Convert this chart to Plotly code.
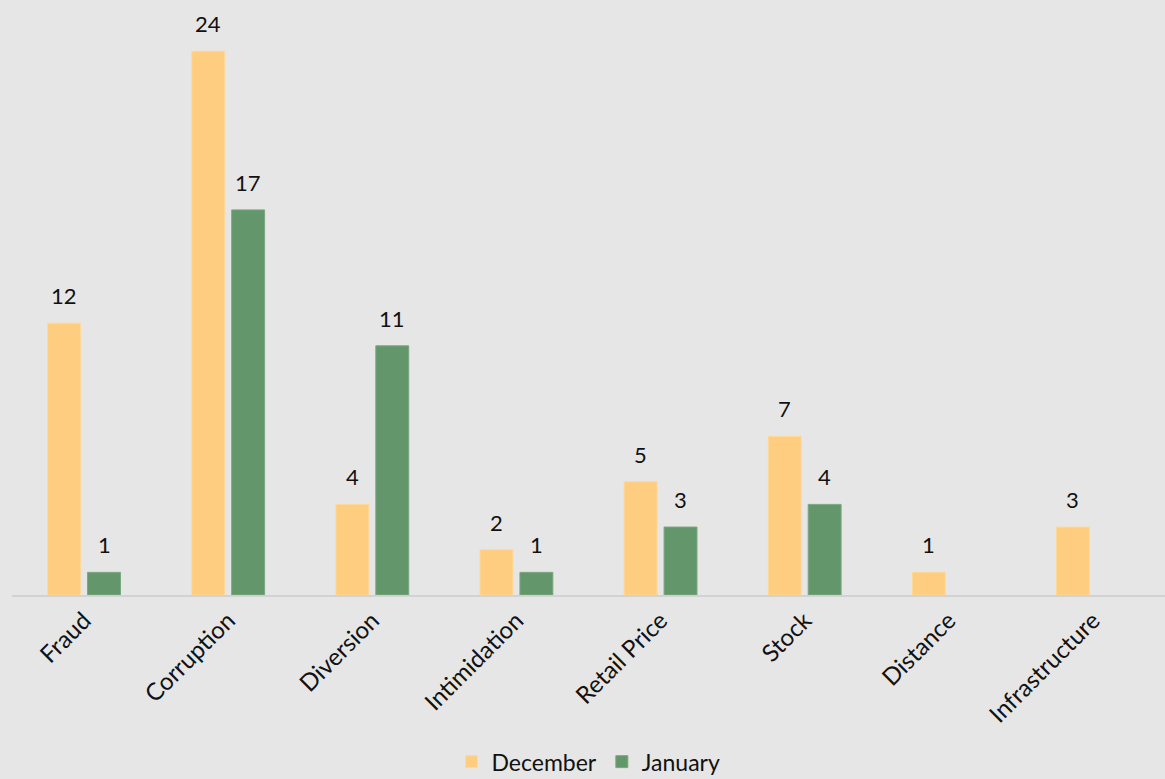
import plotly.graph_objects as go

categories = ["Fraud", "Corruption", "Diversion", "Intimidation", "Retail Price",
              "Stock", "Distance", "Infrastructure"]
december = [12, 24, 4, 2, 5, 7, 1, 3]
january = [1, 17, 11, 1, 3, 4, None, None]

FONT = "Lato, Calibri, 'Open Sans', sans-serif"
BG = "#E6E6E6"
INK = "#111111"

fig = go.Figure()
fig.add_trace(go.Bar(
    name="December", x=categories, y=december,
    marker=dict(color="#FFCD80", line=dict(color="#FFD998", width=1)),
))
fig.add_trace(go.Bar(
    name="January", x=categories, y=january,
    marker=dict(color="#63976B", line=dict(color="#7AA881", width=1)),
))

# value labels sit a little above each bar, offset to the bar's slot in the group
for vals, dx in ((december, -20), (january, 20)):
    for cat, v in zip(categories, vals):
        if v is None:
            continue
        fig.add_annotation(x=cat, y=v, text=str(v), showarrow=False,
                           xshift=dx, yshift=12, yanchor="bottom",
                           font=dict(size=22, color=INK, family=FONT))

fig.update_layout(
    width=1165, height=779,
    paper_bgcolor=BG, plot_bgcolor=BG,
    margin=dict(l=12, r=0, t=6, b=184, autoexpand=False),
    barmode="group", bargap=0.446, bargroupgap=0.175,
    font=dict(family=FONT, size=22, color=INK),
    showlegend=True,
    legend=dict(orientation="h", x=0.5, xanchor="center", y=-0.283, yanchor="middle",
                font=dict(size=23, family=FONT, color=INK),
                bgcolor="rgba(0,0,0,0)", itemwidth=30),
    xaxis=dict(tickangle=-45, showline=True, linecolor="#D2D2D2", linewidth=2,
               showgrid=False, ticks="", automargin=False,
               tickfont=dict(size=24, family=FONT, color=INK)),
    yaxis=dict(range=[0, 26], visible=False, showgrid=False, zeroline=False,
               automargin=False),
)

fig.write_html("out.html")
